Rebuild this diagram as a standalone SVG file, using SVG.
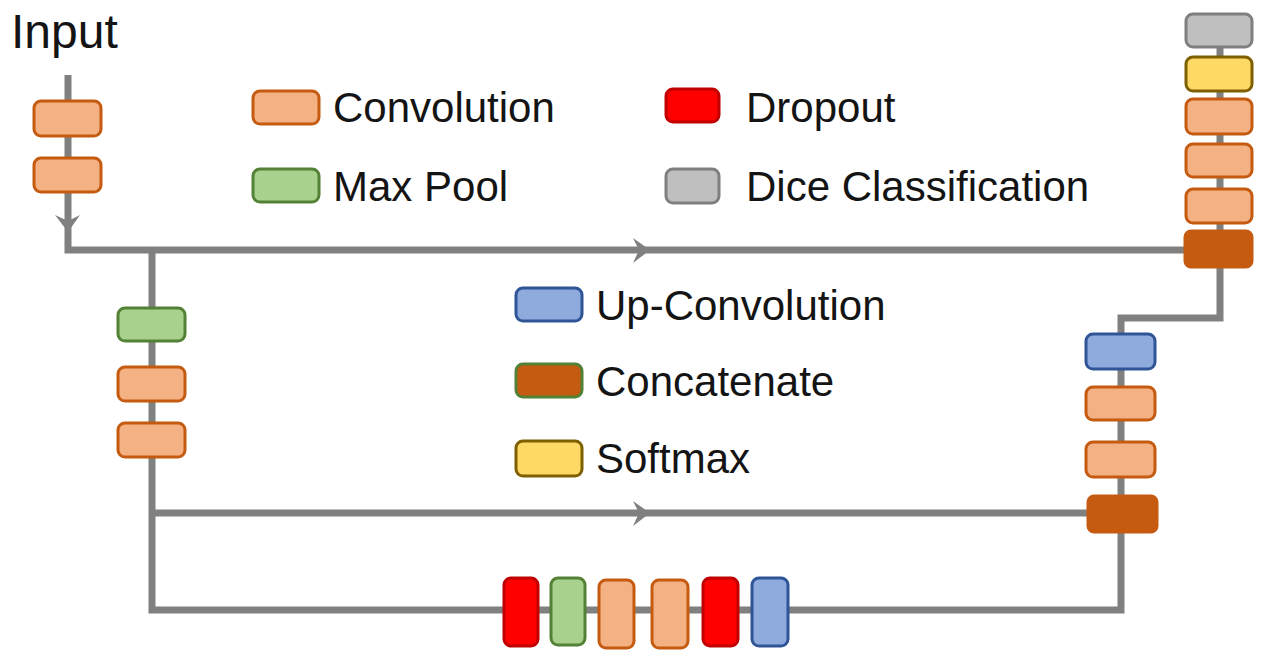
<svg xmlns="http://www.w3.org/2000/svg" width="1267" height="654" viewBox="0 0 1267 654">
<style>
  .t { font-family: "Liberation Sans", Arial, sans-serif; font-size: 42px; fill: #141414; }
  .ln { fill: none; stroke: #808080; stroke-width: 7; stroke-linejoin: miter; }
  .conv { fill: #F4B183; stroke: #C55A11; stroke-width: 3; }
  .pool { fill: #A9D18E; stroke: #538135; stroke-width: 3; }
  .drop { fill: #FF0000; stroke: #C00000; stroke-width: 3; }
  .dice { fill: #BFBFBF; stroke: #7F7F7F; stroke-width: 3; }
  .up { fill: #8FAADC; stroke: #2F5597; stroke-width: 3; }
  .cat { fill: #C55A11; stroke: #C55A11; stroke-width: 3; }
  .soft { fill: #FFD966; stroke: #7F6000; stroke-width: 3; }
  .ah { fill: #808080; }
</style>
<defs>
  <path id="arrowR" d="M3,0 L-14,-12 L-8,0 L-14,13 Z"/>
</defs>
<rect width="1267" height="654" fill="#ffffff"/>

<g id="connectors">
  <path class="ln" d="M68,75 V250 H1186"/>
  <path class="ln" d="M152,250 V610 H1121 V318 H1220 V266"/>
  <path class="ln" d="M152,513 H1089"/>
  <path class="ln" d="M1220,47 V232"/>
  <use href="#arrowR" class="ah" transform="translate(647,250)"/>
  <use href="#arrowR" class="ah" transform="translate(647,513)"/>
  <use href="#arrowR" class="ah" transform="translate(68,229) rotate(90)"/>
</g>

<g id="input-label"><text class="t" x="11" y="48" style="font-size:48px">Input</text></g>

<g id="enc1">
  <rect class="conv" x="34" y="101" width="67" height="35" rx="7"/>
  <rect class="conv" x="34" y="158" width="67" height="34" rx="7"/>
</g>

<g id="enc2">
  <rect class="pool" x="118" y="308" width="67" height="33" rx="7"/>
  <rect class="conv" x="118" y="367" width="67" height="34" rx="7"/>
  <rect class="conv" x="118" y="423" width="67" height="34" rx="7"/>
</g>

<g id="bottleneck">
  <rect class="drop" x="504" y="578" width="34" height="68" rx="7"/>
  <rect class="pool" x="551" y="578" width="34" height="67" rx="7"/>
  <rect class="conv" x="599" y="580" width="35" height="68" rx="7"/>
  <rect class="conv" x="652" y="580" width="36" height="68" rx="7"/>
  <rect class="drop" x="703" y="578" width="35" height="68" rx="7"/>
  <rect class="up" x="752" y="578" width="36" height="68" rx="7"/>
</g>

<g id="dec2">
  <rect class="up" x="1086" y="334" width="69" height="35" rx="7"/>
  <rect class="conv" x="1086" y="387" width="69" height="33" rx="7"/>
  <rect class="conv" x="1086" y="442" width="69" height="35" rx="7"/>
  <rect class="cat" x="1088" y="496" width="69" height="36" rx="6"/>
</g>

<g id="dec1">
  <rect class="dice" x="1186" y="14" width="66" height="33" rx="7"/>
  <rect class="soft" x="1186" y="57" width="66" height="34" rx="7"/>
  <rect class="conv" x="1186" y="99" width="66" height="35" rx="7"/>
  <rect class="conv" x="1186" y="144" width="66" height="33" rx="7"/>
  <rect class="conv" x="1186" y="189" width="66" height="34" rx="7"/>
  <rect class="cat" x="1185" y="231" width="67" height="36" rx="6"/>
</g>

<g id="legend">
  <rect class="conv" x="253" y="91" width="66" height="33" rx="7"/>
  <text class="t" x="333" y="122">Convolution</text>
  <rect class="pool" x="253" y="169" width="66" height="33" rx="7"/>
  <text class="t" x="333" y="201">Max Pool</text>
  <rect class="drop" x="666" y="89" width="53" height="33" rx="7"/>
  <text class="t" x="746" y="122">Dropout</text>
  <rect class="dice" x="666" y="169" width="53" height="34" rx="7"/>
  <text class="t" x="746" y="201">Dice Classification</text>
  <rect class="up" x="516" y="288" width="66" height="33" rx="7"/>
  <text class="t" x="596" y="320">Up-Convolution</text>
  <rect class="cat" x="516" y="364" width="66" height="33" rx="7" style="stroke:#538135"/>
  <text class="t" x="596" y="396">Concatenate</text>
  <rect class="soft" x="516" y="441" width="66" height="35" rx="7"/>
  <text class="t" x="596" y="473">Softmax</text>
</g>
</svg>
